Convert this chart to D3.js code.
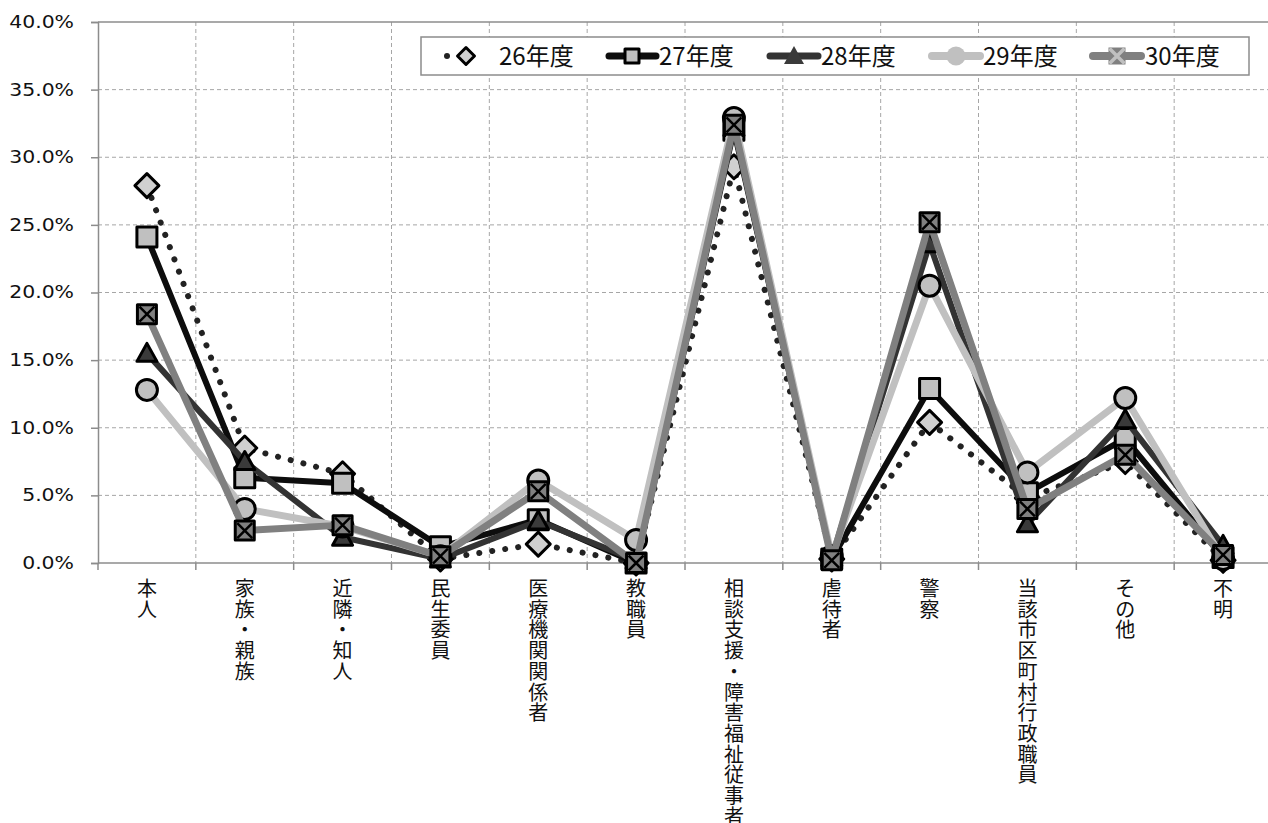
<!DOCTYPE html>
<html><head><meta charset="utf-8">
<script src="https://cdn.jsdelivr.net/npm/d3@7"></script>
<style>
html,body{margin:0;padding:0;background:#fff;}
svg{display:block;}
.xlab{font-family:'Noto Sans CJK JP',sans-serif;font-size:20px;fill:#111;}
.ylab{font-family:'DejaVu Sans',Verdana,sans-serif;font-size:17px;fill:#111;}
.leg{font-family:'Noto Sans CJK JP',sans-serif;font-size:24px;fill:#111;}
</style></head>
<body>
<svg id="chart" width="1268" height="823"></svg>
<script>
const categories = ["本人","家族・親族","近隣・知人","民生委員","医療機関関係者","教職員","相談支援・障害福祉従事者","虐待者","警察","当該市区町村行政職員","その他","不明"];
const yTicks = [0,5,10,15,20,25,30,35,40];
const seriesNames = ["26年度","27年度","28年度","29年度","30年度"];
const v26 = [27.9, 8.5, 6.6, 0.3, 1.4, 0.0, 29.3, 0.3, 10.4, 4.8, 7.5, 0.2];
const v27 = [24.1, 6.3, 5.9, 1.2, 3.2, 0.0, 32.0, 0.3, 12.9, 5.2, 9.2, 0.4];
const v28 = [15.5, 7.5, 1.9, 0.3, 3.1, 0.2, 32.2, 0.4, 23.6, 2.9, 10.6, 1.3];
const v29 = [12.8, 4.0, 2.7, 0.5, 6.1, 1.7, 32.9, 0.5, 20.5, 6.7, 12.2, 0.3];
const v30 = [18.4, 2.4, 2.8, 0.5, 5.3, 0.0, 32.4, 0.2, 25.2, 4.0, 8.0, 0.6];

const svg = d3.select("#chart");
const L = 98, R = 1272, T = 22, B = 563;
const x = d3.scaleBand().domain(categories).range([L, R]).padding(0);
const y = d3.scaleLinear().domain([0, 40]).range([B, T]);
const cx = c => x(c) + x.bandwidth() / 2;

// grid
const grid = svg.append("g");
grid.selectAll("line.h").data(yTicks.filter(t => t > 0 && t < 40)).join("line")
  .attr("x1", L).attr("x2", R).attr("y1", d => y(d)).attr("y2", d => y(d))
  .attr("stroke", "#a6a6a6").attr("stroke-width", 1).attr("stroke-dasharray", "4,3");
grid.selectAll("line.v").data(categories.slice(1)).join("line")
  .attr("x1", d => x(d)).attr("x2", d => x(d)).attr("y1", T).attr("y2", B)
  .attr("stroke", "#a6a6a6").attr("stroke-width", 1).attr("stroke-dasharray", "4,3");
grid.append("line").attr("x1", L).attr("x2", R).attr("y1", y(40)).attr("y2", y(40))
  .attr("stroke", "#8c8c8c").attr("stroke-width", 1.5);

// y axis
const yAxis = d3.axisLeft(y).tickValues(yTicks).tickFormat(d => d.toFixed(1) + "%").tickSize(7).tickPadding(17);
const gy = svg.append("g").attr("transform", `translate(${L},0)`).call(yAxis);
gy.attr("font-family", null).attr("font-size", null);
gy.select(".domain").attr("stroke", "#8c8c8c").attr("stroke-width", 1.5);
gy.selectAll(".tick line").attr("stroke", "#8c8c8c").attr("stroke-width", 1.5);
gy.selectAll(".tick text").attr("class", "ylab").attr("fill", null).each(function() {
  const w = this.getComputedTextLength();
  if (w < 60 && this.textContent.length === 5) {
    d3.select(this).attr("textLength", w * 1.2).attr("lengthAdjust", "spacingAndGlyphs");
  } else if (w < 50 && this.textContent.length === 4) {
    d3.select(this).attr("textLength", w * 1.2).attr("lengthAdjust", "spacingAndGlyphs");
  }
});

// x axis
svg.append("line").attr("x1", L).attr("x2", R).attr("y1", B).attr("y2", B).attr("stroke", "#8c8c8c").attr("stroke-width", 1.5);
const bounds = categories.map(c => x(c)).concat([R]);
svg.append("g").selectAll("line").data(bounds).join("line")
  .attr("x1", d => d).attr("x2", d => d).attr("y1", B).attr("y2", B + 7)
  .attr("stroke", "#8c8c8c").attr("stroke-width", 1.5);

// x labels (vertical, one glyph per row)
const xl = svg.append("g");
categories.forEach(c => {
  Array.from(c).forEach((ch, i) => {
    xl.append("text").attr("class", "xlab").attr("x", cx(c)).attr("y", 596 + i * 20.7)
      .attr("text-anchor", "middle").text(ch);
  });
});

// markers
function markerPath(type, s) {
  const h = s / 2;
  if (type === "diamond") return `M0,${-h}L${h},0L0,${h}L${-h},0Z`;
  if (type === "square" || type === "xsquare") return `M${-h},${-h}H${h}V${h}H${-h}Z`;
  if (type === "triangle") return `M0,${-h}L${h},${h * 0.8}L${-h},${h * 0.8}Z`;
  if (type === "circle") return `M${h},0A${h},${h} 0 1,1 ${-h},0A${h},${h} 0 1,1 ${h},0Z`;
}
function drawMarker(g, type, st, px, py, legend) {
  const mg = g.append("g").attr("transform", `translate(${px},${py})`);
  const size = legend ? st.lsize : st.size;
  const stroke = legend ? st.lstroke : st.mstroke;
  mg.append("path").attr("d", markerPath(type, size)).attr("fill", st.mfill)
    .attr("stroke", stroke).attr("stroke-width", stroke === "none" ? 0 : 3).attr("stroke-linejoin", "round");
  if (type === "xsquare") {
    const k = size / 2 - (legend ? 1 : 2);
    mg.append("path").attr("d", `M${-k},${-k}L${k},${k}M${k},${-k}L${-k},${k}`)
      .attr("stroke", legend ? "#c0c0c0" : "#000").attr("stroke-width", legend ? 3.5 : 2.5);
  }
}

const styles = [
  {name: seriesNames[0], vals: v26, color: "#222", width: 6, dash: "0.1,13", marker: "diamond", mfill: "#d0d0d0", size: 24, mstroke: "#000", lsize: 17, lstroke: "#000"},
  {name: seriesNames[1], vals: v27, color: "#0d0d0d", width: 6, dash: null, marker: "square", mfill: "#c0c0c0", size: 20, mstroke: "#000", lsize: 14, lstroke: "#000"},
  {name: seriesNames[2], vals: v28, color: "#333", width: 6, dash: null, marker: "triangle", mfill: "#3a3a3a", size: 20, mstroke: "#000", lsize: 20, lstroke: "none"},
  {name: seriesNames[3], vals: v29, color: "#c0c0c0", width: 7, dash: null, marker: "circle", mfill: "#c0c0c0", size: 21, mstroke: "#000", lsize: 19, lstroke: "none"},
  {name: seriesNames[4], vals: v30, color: "#808080", width: 7, dash: null, marker: "xsquare", mfill: "#808080", size: 19, mstroke: "#000", lsize: 17, lstroke: "none"}
];

const line = d3.line().x((d, i) => cx(categories[i])).y(d => y(d));
styles.forEach(st => {
  const g = svg.append("g");
  g.append("path").attr("d", line(st.vals)).attr("fill", "none").attr("stroke", st.color)
    .attr("stroke-width", st.width).attr("stroke-linecap", "round").attr("stroke-linejoin", "round")
    .attr("stroke-dasharray", st.dash);
  st.vals.forEach((v, i) => drawMarker(g, st.marker, st, cx(categories[i]), y(v), false));
});

// legend
const lg = svg.append("g");
lg.append("rect").attr("x", 421).attr("y", 37).attr("width", 828).attr("height", 38)
  .attr("fill", "#fff").attr("stroke", "#8c8c8c").attr("stroke-width", 1.5);
const legendPos = [
  {x1: 447, x2: 485, mx: 466, tx: 499},
  {x1: 609, x2: 656, mx: 632, tx: 659},
  {x1: 770, x2: 818, mx: 794, tx: 821},
  {x1: 932, x2: 980, mx: 956, tx: 983},
  {x1: 1093, x2: 1141, mx: 1117, tx: 1145}
];
styles.forEach((st, i) => {
  const p = legendPos[i];
  const ly = 56;
  if (st.dash) {
    lg.append("circle").attr("cx", p.x1).attr("cy", ly).attr("r", 3).attr("fill", st.color);
  } else {
    lg.append("line").attr("x1", p.x1).attr("x2", p.x2).attr("y1", ly).attr("y2", ly)
      .attr("stroke", st.color).attr("stroke-width", st.width + 1).attr("stroke-linecap", "round");
  }
  drawMarker(lg, st.marker, st, p.mx, ly, true);
  lg.append("text").attr("class", "leg").attr("x", p.tx).attr("y", ly + 8.5).text(st.name);
});
</script>
</body></html>
